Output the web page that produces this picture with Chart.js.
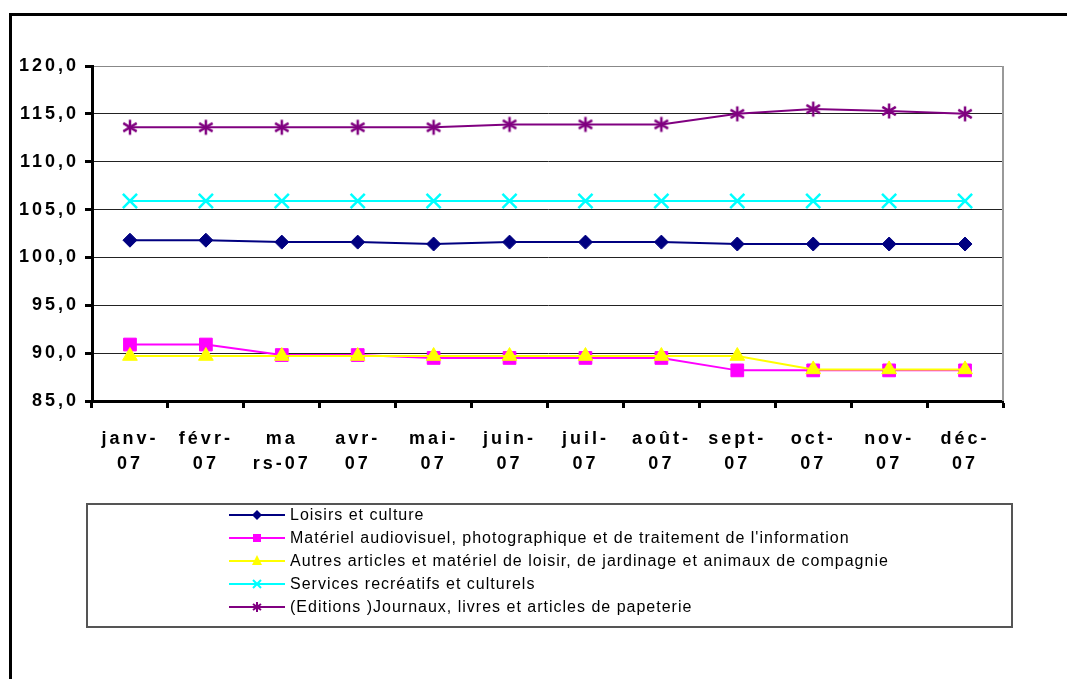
<!DOCTYPE html>
<html>
<head>
<meta charset="utf-8">
<script src="https://cdn.jsdelivr.net/npm/chart.js@4.4.1/dist/chart.umd.min.js"></script>
<style>
    body { margin: 0; background: #fff; }
    #wrap { position: relative; width: 1067px; height: 679px; overflow: hidden; }
    #frame { position: absolute; left: 9px; top: 13px; width: 1080px; height: 700px; border-left: 3px solid #000; border-top: 3px solid #000; }
    #chart { position: absolute; left: 0; top: 0; }
    #legend { position: absolute; left: 86px; top: 503px; width: 923px; height: 121px; border: 2px solid #555;
              font-family: Arial, "Liberation Sans", sans-serif; font-size: 16px; letter-spacing: 1px; color: #000; }
    .row { position: absolute; left: 141px; height: 20px; display: flex; align-items: center; white-space: nowrap; }
    .row svg { margin-right: 5px; }
</style>
</head>
<body>
<div id="wrap">
    <div id="frame"></div>
    <canvas id="chart" width="1067" height="679"></canvas>
    <div id="legend"></div>
</div>
<script>
// ---- data ----
const months = [
    ['janv-', '07'], ['févr-', '07'], ['ma', 'rs-07'], ['avr-', '07'],
    ['mai-', '07'], ['juin-', '07'], ['juil-', '07'], ['août-', '07'],
    ['sept-', '07'], ['oct-', '07'], ['nov-', '07'], ['déc-', '07']
];
const yTicks = [85, 90, 95, 100, 105, 110, 115, 120];

const seriesNames = [
    'Loisirs et culture',
    "Matériel audiovisuel, photographique et de traitement de l'information",
    'Autres articles et matériel de loisir, de jardinage et animaux de compagnie',
    'Services recréatifs et culturels',
    '(Editions )Journaux, livres et articles de papeterie'
];
const loisirs   = [101.8, 101.8, 101.6, 101.6, 101.4, 101.6, 101.6, 101.6, 101.4, 101.4, 101.4, 101.4];
const materiel  = [90.9, 90.9, 89.8, 89.8, 89.5, 89.5, 89.5, 89.5, 88.2, 88.2, 88.2, 88.2];
const autres    = [89.7, 89.7, 89.7, 89.7, 89.7, 89.7, 89.7, 89.7, 89.7, 88.3, 88.3, 88.3];
const services  = [105.9, 105.9, 105.9, 105.9, 105.9, 105.9, 105.9, 105.9, 105.9, 105.9, 105.9, 105.9];
const journaux  = [113.6, 113.6, 113.6, 113.6, 113.6, 113.9, 113.9, 113.9, 115.0, 115.5, 115.3, 115.0];

const colors = ['#000080', '#FF00FF', '#FFFF00', '#00FFFF', '#800080'];

// asterisk marker (vertical bar + X), like the spreadsheet one
function makeAsterisk(color, size) {
    const c = document.createElement('canvas');
    c.width = size; c.height = size;
    const g = c.getContext('2d');
    g.strokeStyle = color;
    g.lineWidth = 2.5;
    const m = size / 2, r = size / 2 - 1.5;
    g.beginPath();
    g.moveTo(m, m - r); g.lineTo(m, m + r);
    g.moveTo(m - r * 0.9, m - r * 0.55); g.lineTo(m + r * 0.9, m + r * 0.55);
    g.moveTo(m + r * 0.9, m - r * 0.55); g.lineTo(m - r * 0.9, m + r * 0.55);
    g.stroke();
    return c;
}

const pointStyles = ['rectRot', 'rect', 'triangle', 'crossRot', makeAsterisk(colors[4], 18)];
const pointRadii = [7, 9, 8.5, 10, 9];
const seriesData = [loisirs, materiel, autres, services, journaux];

const datasets = seriesData.map((data, i) => ({
    label: seriesNames[i],
    data: data,
    borderColor: colors[i],
    backgroundColor: colors[i],
    borderWidth: 2,
    pointStyle: pointStyles[i],
    pointRadius: pointRadii[i],
    pointBorderWidth: i === 3 ? 2.5 : 1,
    pointBorderColor: colors[i],
    pointBackgroundColor: colors[i],
    tension: 0,
    order: 5 - i   // later series drawn on top
}));

const frameLines = {
    id: 'frameLines',
    beforeDraw(chart) {
        chart.ctx.letterSpacing = '3px';
    },
    afterDraw(chart) {
        const { ctx, chartArea } = chart;
        ctx.save();
        ctx.strokeStyle = '#999';
        ctx.lineWidth = 2;
        ctx.beginPath();
        ctx.moveTo(chartArea.right, chartArea.top);
        ctx.lineTo(chartArea.right, chartArea.bottom);
        ctx.stroke();
        ctx.restore();
    }
};

new Chart(document.getElementById('chart'), {
    type: 'line',
    data: { labels: months, datasets: datasets },
    options: {
        responsive: false,
        animation: false,
        devicePixelRatio: 1,
        layout: { padding: { left: 12, top: 66, right: 64, bottom: 198 } },
        plugins: { legend: { display: false }, tooltip: { enabled: false } },
        scales: {
            x: {
                offset: true,
                grid: { offset: true, drawOnChartArea: false, tickLength: 7, tickColor: '#000', tickWidth: 3 },
                border: { color: '#000', width: 3 },
                ticks: {
                    autoSkip: false, maxRotation: 0, minRotation: 0, padding: 18,
                    color: '#000',
                    font: { family: 'Arial, "Liberation Sans", sans-serif', size: 18, weight: 'bold', lineHeight: 1.4 }
                },
                afterFit(scale) { scale.height = 80; }
            },
            y: {
                min: yTicks[0],
                max: yTicks[yTicks.length - 1],
                afterBuildTicks(scale) { scale.ticks = yTicks.map(v => ({ value: v })); },
                grid: {
                    color: (ctx) => (ctx.tick && ctx.tick.value === 120 ? '#888' : '#222'),
                    lineWidth: 1,
                    tickLength: 7, tickColor: '#000', tickWidth: 3
                },
                border: { color: '#000', width: 3 },
                ticks: {
                    padding: 6,
                    color: '#000',
                    font: { family: 'Arial, "Liberation Sans", sans-serif', size: 18, weight: 'bold' },
                    callback: (v) => Number(v).toFixed(1).replace('.', ',')
                },
                afterFit(scale) { scale.width = 80; }
            }
        }
    },
    plugins: [frameLines]
});

// ---- legend, one entry per row ----
function markerSvg(i) {
    const c = colors[i];
    let m = '';
    if (i === 0) m = `<polygon points="28,5 33,10 28,15 23,10" fill="${c}"/>`;
    if (i === 1) m = `<rect x="24" y="6" width="8" height="8" fill="${c}"/>`;
    if (i === 2) m = `<polygon points="28,4 33,14 23,14" fill="${c}"/>`;
    if (i === 3) m = `<path d="M24,6 L32,14 M32,6 L24,14" stroke="${c}" stroke-width="2"/>`;
    if (i === 4) m = `<path d="M28,5 L28,15 M24,7 L32,13 M32,7 L24,13" stroke="${c}" stroke-width="2"/>`;
    return `<svg width="56" height="20"><line x1="0" y1="10" x2="56" y2="10" stroke="${c}" stroke-width="2"/>${m}</svg>`;
}
const legend = document.getElementById('legend');
legend.innerHTML = seriesNames.map((name, i) =>
    `<div class="row" style="top:${i * 23}px">${markerSvg(i)}<span>${name}</span></div>`
).join('');
</script>
</body>
</html>
